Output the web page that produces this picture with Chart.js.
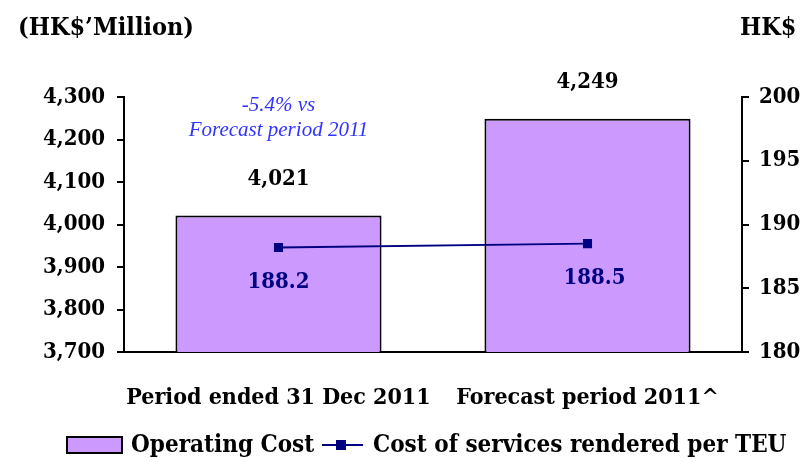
<!DOCTYPE html>
<html>
<head>
<meta charset="utf-8">
<script src="https://cdn.jsdelivr.net/npm/chart.js@4"></script>
<style>
  html, body { margin: 0; padding: 0; background: #fff; }
  canvas { display: block; }
</style>
</head>
<body>
<canvas id="costChart" width="802" height="462"></canvas>
<script>
var categories = ["Period ended 31 Dec 2011", "Forecast period 2011^"];
var operatingCost = [4021, 4249];
var costPerTEU = [188.2, 188.5];
var leftTicks = [3700, 3800, 3900, 4000, 4100, 4200, 4300];
var rightTicks = [180, 185, 190, 195, 200];

var FONT = "'DejaVu Serif Condensed', 'DejaVu Serif', serif";
var IFONT = "'Liberation Serif', serif";

var labelPlugin = {
  id: "labels",
  afterDatasetsDraw: function (chart) {
    var ctx = chart.ctx;
    var barMeta = chart.getDatasetMeta(0);
    var lineMeta = chart.getDatasetMeta(1);
    ctx.save();
    ctx.textAlign = "center";
    ctx.textBaseline = "middle";

    // bar values
    ctx.font = "bold 22px " + FONT;
    ctx.fillStyle = "#000";
    barMeta.data.forEach(function (bar, i) {
      ctx.fillText(operatingCost[i].toLocaleString("en-US"), bar.x, bar.y - 36);
    });

    // per-TEU values
    ctx.fillStyle = "#000080";
    lineMeta.data.forEach(function (pt, i) {
      ctx.fillText(costPerTEU[i].toFixed(1), pt.x + (i === 1 ? 7 : 0), pt.y + 35);
    });

    // note
    var x0 = barMeta.data[0].x;
    ctx.font = "italic 21px " + IFONT;
    ctx.fillStyle = "#3333ff";
    ctx.fillText("-5.4% vs", x0, 105);
    ctx.fillText("Forecast period 2011", x0, 130);

    // axis titles
    ctx.font = "bold 25px " + FONT;
    ctx.fillStyle = "#000";
    ctx.textAlign = "left";
    ctx.fillText("(HK$\u2019Million)", 18, 28);
    ctx.fillText("HK$", 740, 28);

    // legend
    ctx.font = "bold 24px " + FONT;
    ctx.fillStyle = "#cc99ff";
    ctx.fillRect(67, 437, 55, 16);
    ctx.strokeStyle = "#000";
    ctx.lineWidth = 2;
    ctx.strokeRect(67, 437, 55, 16);
    ctx.fillStyle = "#000";
    ctx.fillText("Operating Cost", 131, 446);
    ctx.strokeStyle = "#000080";
    ctx.beginPath();
    ctx.moveTo(322, 445);
    ctx.lineTo(363, 445);
    ctx.stroke();
    ctx.fillStyle = "#000080";
    ctx.fillRect(336, 440, 10, 10);
    ctx.fillStyle = "#000";
    ctx.fillText("Cost of services rendered per TEU", 373, 446);
    ctx.restore();
  }
};

var ctx = document.getElementById("costChart").getContext("2d");
var chart = new Chart(ctx, {
  data: {
    labels: categories,
    datasets: [
      {
        type: "bar",
        label: "Operating Cost",
        data: operatingCost,
        yAxisID: "y",
        backgroundColor: "#cc99ff",
        borderColor: "#000",
        borderWidth: 2,
        barPercentage: 0.667,
        categoryPercentage: 1,
        order: 2
      },
      {
        type: "line",
        label: "Cost of services rendered per TEU",
        data: costPerTEU,
        yAxisID: "y1",
        borderColor: "#000080",
        borderWidth: 2,
        pointStyle: "rect",
        pointRadius: 5,
        pointBackgroundColor: "#000080",
        pointBorderColor: "#000080",
        order: 1
      }
    ]
  },
  options: {
    responsive: false,
    animation: false,
    devicePixelRatio: 1,
    layout: { padding: { top: 97, left: 0, right: 0, bottom: 0 } },
    plugins: {
      legend: { display: false },
      tooltip: { enabled: false }
    },
    scales: {
      x: {
        grid: { display: false },
        border: { color: "#000", width: 2 },
        ticks: {
          color: "#000",
          padding: 24,
          maxRotation: 0,
          minRotation: 0,
          autoSkip: false,
          font: { family: FONT, size: 23, weight: "bold" }
        },
        afterFit: function (s) {
          s.height = 110;
          s.paddingLeft = 0;
          s.paddingRight = 0;
        }
      },
      y: {
        position: "left",
        min: leftTicks[0],
        max: leftTicks[leftTicks.length - 1],
        afterBuildTicks: function (s) {
          s.ticks = leftTicks.map(function (v) { return { value: v }; });
        },
        grid: { drawOnChartArea: false, color: "#000", lineWidth: 2, tickLength: 7 },
        border: { color: "#000", width: 2 },
        ticks: {
          color: "#000",
          padding: 12,
          font: { family: FONT, size: 22, weight: "bold" },
          callback: function (v) { return v.toLocaleString("en-US"); }
        },
        afterFit: function (s) { s.width = 124; }
      },
      y1: {
        position: "right",
        min: rightTicks[0],
        max: rightTicks[rightTicks.length - 1],
        afterBuildTicks: function (s) {
          s.ticks = rightTicks.map(function (v) { return { value: v }; });
        },
        grid: { drawOnChartArea: false, color: "#000", lineWidth: 2, tickLength: 7 },
        border: { color: "#000", width: 2 },
        ticks: {
          color: "#000",
          padding: 10,
          font: { family: FONT, size: 22, weight: "bold" }
        },
        afterFit: function (s) { s.width = 60; }
      }
    }
  },
  plugins: [labelPlugin]
});
</script>
</body>
</html>
